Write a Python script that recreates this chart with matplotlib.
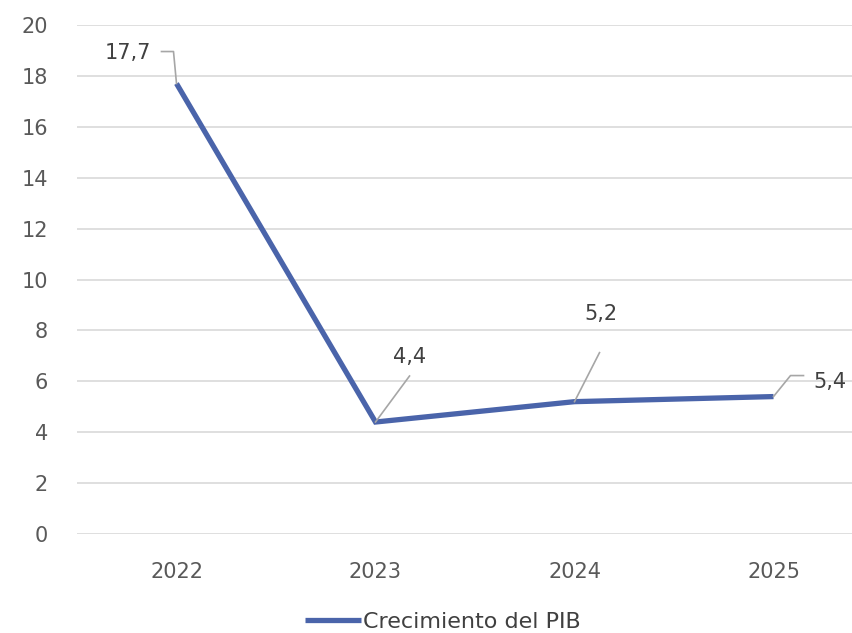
import numpy as np
import matplotlib
matplotlib.use('Agg')
import matplotlib.pyplot as plt
from matplotlib.lines import Line2D

# Datos
anios = ['2022', '2023', '2024', '2025']
crecimiento = [17.7, 4.4, 5.2, 5.4]
etiquetas = ['17,7', '4,4', '5,2', '5,4']
serie = 'Crecimiento del PIB'

# Posición de etiquetas y líneas guía (pixeles respecto al punto)
guias = [[(0, 0), (-3, 32), (-15, 32)],
         [(0, 0), (34, 46)],
         [(0, 0), (25, 49)],
         [(0, 0), (17, 21), (30, 21)]]
pos_texto = [(-49, 31), (34, 65), (26, 88), (56, 15)]

plt.rcParams['font.family'] = ['DejaVu Sans']

fig = plt.figure(figsize=(8.52, 6.33), dpi=100)
ax = fig.add_axes([77 / 852, 1 - 534 / 633, 796 / 852, 509 / 633])

x = np.arange(len(anios))
ax.plot(x, crecimiento, color='#4A64AA', lw=3.8, solid_joinstyle='miter',
        solid_capstyle='butt', label=serie, zorder=3)

ax.set_xlim(-0.5, len(anios) - 0.5)
ax.set_ylim(0, 20)
ax.set_yticks(range(0, 21, 2))
ax.set_xticks(x)
ax.set_xticklabels(anios)
ax.grid(axis='y', color='#d9d9d9', lw=1.2)
ax.set_axisbelow(True)
for s in ax.spines.values():
    s.set_visible(False)
ax.tick_params(axis='y', length=0, pad=21, labelsize=15, labelcolor='#595959')
ax.tick_params(axis='x', length=0, pad=20, labelsize=15, labelcolor='#595959')

# Etiquetas de datos con líneas guía
fig.canvas.draw()
for i in range(len(anios)):
    px, py = ax.transData.transform((x[i], crecimiento[i]))
    xs = [px + d[0] for d in guias[i]]
    ys = [py + d[1] for d in guias[i]]
    fig.add_artist(Line2D(xs, ys, transform=None, color='#a6a6a6', lw=1.2, zorder=2))
    ax.annotate(etiquetas[i], (x[i], crecimiento[i]), xytext=pos_texto[i],
                textcoords='offset pixels', ha='center', va='center',
                fontsize=15, color='#404040')

fig.legend(loc='center', bbox_to_anchor=(443 / 852, 1 - 622 / 633), frameon=False,
           fontsize=16, handlelength=2.5, handletextpad=0.1, labelcolor='#404040')

fig.savefig('out.png', dpi=100)
